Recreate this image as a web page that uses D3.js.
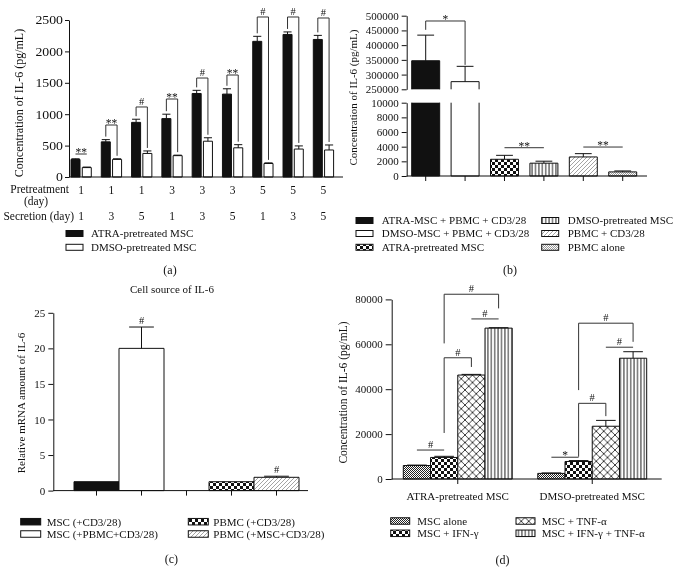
<!DOCTYPE html>
<html><head><meta charset="utf-8">
<script src="https://cdn.jsdelivr.net/npm/d3@7"></script>
<style>
body{margin:0;background:#fff;}
svg{display:block;font-family:"Liberation Serif","Times New Roman",serif;will-change:transform;opacity:0.999;}
</style></head><body>
<svg id="chart" width="679" height="569"></svg>
<script>
// ---------- Panel (a) data ----------
const aPretreat = ["1","1","1","3","3","3","5","5","5"];
const aSecretion = ["1","3","5","1","3","5","1","3","5"];
const aSeries = ["ATRA-pretreated MSC","DMSO-pretreated MSC"];
const aAtra = [280,560,870,930,1330,1320,2160,2270,2190];
const aAtraErr = [10,35,50,70,50,85,80,40,65];
const aDmso = [150,280,375,340,570,465,215,445,430];
const aDmsoErr = [8,10,40,8,55,50,10,50,80];
const aSigLabel = ["**","**","#","**","#","**","#","#","#"];
const aSigLevel = [366,828,1115,1242,1576,1624,2548,2548,2532];
const aSigBracket = [false,true,true,true,true,true,true,true,true];
const aYTicks = [0,500,1000,1500,2000,2500];

// ---------- Panel (b) data ----------
const bLabels = ["ATRA-MSC + PBMC + CD3/28","DMSO-MSC + PBMC + CD3/28","ATRA-pretreated MSC","DMSO-pretreated MSC","PBMC + CD3/28","PBMC alone"];
const bValues = [347000,276000,2280,1750,2600,560];
const bErr = [87000,52000,540,270,450,130];
const bUpperTicks = [250000,300000,350000,400000,450000,500000];
const bLowerTicks = [0,2000,4000,6000,8000,10000];
const bSig = [
  {from:0,to:1,label:"*",level:482000,legs:[452000,333000],upper:true},
  {from:2,to:3,label:"**",level:3860},
  {from:4,to:5,label:"**",level:3950}
];

// ---------- Panel (c) data ----------
const cTitle = "Cell source of IL-6";
const cSlots = ["MSC (+CD3/28)","MSC (+PBMC+CD3/28)"," ","PBMC (+CD3/28)","PBMC (+MSC+CD3/28)"];
const cLabels = ["MSC (+CD3/28)","MSC (+PBMC+CD3/28)","PBMC (+CD3/28)","PBMC (+MSC+CD3/28)"];
const cValues = [1.25,20,1.25,1.87];
const cErr = [0,3,0,0.15];
const cSig = ["","#","","#"];
const cYTicks = [0,5,10,15,20,25];

// ---------- Panel (d) data ----------
const dGroups = ["ATRA-pretreated MSC","DMSO-pretreated MSC"];
const dSeries = ["MSC alone","MSC + IFN-γ","MSC + TNF-α","MSC + IFN-γ + TNF-α"];
const dAtra = [6000,9600,46300,67200];
const dAtraErr = [200,500,300,200];
const dDmso = [2500,7800,23500,53800];
const dDmsoErr = [200,400,2600,2900];
const dYTicks = [0,20000,40000,60000,80000];
const dSig = [
  {group:0,from:0,to:1,label:"#",level:12900},
  {group:0,from:1,to:2,label:"#",level:54000,legs:[20500,49900]},
  {group:0,from:1,to:3,label:"#",level:82300,legs:[60400,76000]},
  {group:0,from:2,to:3,label:"#",level:71300},
  {group:1,from:0,to:1,label:"*",level:9700},
  {group:1,from:1,to:2,label:"#",level:33700,legs:[9930,28000]},
  {group:1,from:1,to:3,label:"#",level:69400,legs:[39600,61100]},
  {group:1,from:2,to:3,label:"#",level:58700}
];

// ---------- setup ----------
const INK = "#111";
const fmt = d3.format("d");
const svg = d3.select("#chart");
svg.append("rect").attr("width",679).attr("height",569).attr("fill","#fff");
const defs = svg.append("defs");
function pattern(id,w,h,draw){
  const p = defs.append("pattern").attr("id",id).attr("patternUnits","userSpaceOnUse").attr("width",w).attr("height",h);
  p.append("rect").attr("width",w).attr("height",h).attr("fill","#fff");
  draw(p);
}
pattern("checker",6,6,p=>{
  p.append("rect").attr("width",3).attr("height",3).attr("fill",INK);
  p.append("rect").attr("x",3).attr("y",3).attr("width",3).attr("height",3).attr("fill",INK);
});
pattern("vlines",3.4,10,p=>p.append("line").attr("x1",1.7).attr("x2",1.7).attr("y1",0).attr("y2",10).attr("stroke",INK).attr("stroke-width",0.9));
pattern("diag",4,4,p=>p.append("path").attr("d","M-1,1L1,-1M0,4L4,0M3,5L5,3").attr("stroke","#666").attr("stroke-width",0.6));
pattern("fineLight",2,2,p=>{
  p.append("rect").attr("width",1).attr("height",1).attr("fill","#999");
  p.append("rect").attr("x",1).attr("y",1).attr("width",1).attr("height",1).attr("fill","#999");
});
pattern("fineDark",2,2,p=>{
  p.append("rect").attr("width",1).attr("height",1).attr("fill","#222");
  p.append("rect").attr("x",1).attr("y",1).attr("width",1).attr("height",1).attr("fill","#222");
});
pattern("diamond",7.5,7.5,p=>p.append("path").attr("d","M0,0L7.5,7.5M7.5,0L0,7.5").attr("stroke",INK).attr("stroke-width",0.8));

const FILL = {black:INK, white:"#fff", checker:"url(#checker)", vlines:"url(#vlines)", diag:"url(#diag)", fineLight:"url(#fineLight)", fineDark:"url(#fineDark)", diamond:"url(#diamond)"};

function label(g,x,y,s,size,anchor="start",extra=""){
  return g.append("text").attr("transform",`translate(${x},${y})${extra}`)
    .attr("text-anchor",anchor).attr("font-size",size).attr("fill",INK).text(s);
}
function styleAxis(g,size,sx=1){
  g.attr("font-family",null).attr("font-size",null);
  g.selectAll("path.domain").attr("stroke",INK);
  g.selectAll(".tick line").attr("stroke",INK);
  g.selectAll(".tick text").attr("font-size",size).attr("fill",INK);
  if(sx!==1) g.selectAll(".tick text").each(function(){
    const t=d3.select(this); const x=+t.attr("x");
    t.attr("x",x/sx).attr("transform",`scale(${sx},1)`);
  });
}
function bar(g,x,w,y0,y1,fill,edges={top:true,bottom:true}){
  g.append("rect").attr("x",x).attr("y",Math.min(y0,y1)).attr("width",w).attr("height",Math.abs(y0-y1)).attr("fill",fill);
  const top=Math.min(y0,y1), bot=Math.max(y0,y1);
  let d=`M${x},${bot}V${top}M${x+w},${bot}V${top}`;
  if(edges.top) d+=`M${x},${top}H${x+w}`;
  if(edges.bottom) d+=`M${x},${bot}H${x+w}`;
  g.append("path").attr("d",d).attr("fill","none").attr("stroke",INK).attr("stroke-width",1);
}
function errBar(g,cx,yTop,yErr,capW){
  g.append("path").attr("d",`M${cx},${yTop}V${yErr}M${cx-capW/2},${yErr}H${cx+capW/2}`)
    .attr("fill","none").attr("stroke",INK).attr("stroke-width",1);
}
function sig(g,x1,x2,yTop,yL,yR,lab,starSize=11.5,hashSize=10.5){
  let d = (yL!=null) ? `M${x1},${yL}V${yTop}H${x2}V${yR}` : `M${x1},${yTop}H${x2}`;
  g.append("path").attr("d",d).attr("fill","none").attr("stroke","#333").attr("stroke-width",1);
  const mx=(x1+x2)/2;
  if(lab.startsWith("*")) label(g,mx,yTop+2,lab,starSize,"middle");
  else label(g,mx,yTop-2,lab,hashSize,"middle");
}
function legend(g,items,fills,cols,rows,swW,swH,size){
  items.forEach((t,i)=>{
    const c=Math.floor(i/rows.length), r=i%rows.length;
    const cy=rows[r];
    g.append("rect").attr("x",cols[c].sw).attr("y",cy-swH/2).attr("width",swW).attr("height",swH)
      .attr("fill",fills[i]).attr("stroke",INK).attr("stroke-width",1);
    label(g,cols[c].tx,cy+3.8,t,size,"start");
  });
}

// ================= Panel (a) =================
{
  const g = svg.append("g");
  const ya = d3.scaleLinear().domain([0,2500]).range([177,20]);
  const xa = d3.scaleBand().domain(d3.range(aAtra.length)).range([71,333.6]).paddingInner(0.33);
  const xs = d3.scaleBand().domain([0,1]).range([0,xa.bandwidth()]).paddingInner(0.2);
  const bw = xs.bandwidth();
  const fills=[FILL.black,FILL.white];
  aAtra.forEach((v,i)=>{
    const vals=[[v,aAtraErr[i]],[aDmso[i],aDmsoErr[i]]];
    const cxs=[];
    vals.forEach(([val,e],k)=>{
      const x=xa(i)+xs(k);
      bar(g,x,bw,ya(0),ya(val),fills[k]);
      errBar(g,x+bw/2,ya(val),ya(val+e),bw*0.9);
      cxs.push(x+bw/2);
    });
    const yT=ya(aSigLevel[i]);
    if(aSigBracket[i]) sig(g,cxs[0],cxs[1],yT,ya(v+aAtraErr[i])-3,ya(aDmso[i]+aDmsoErr[i])-3,aSigLabel[i]);
    else sig(g,cxs[0],cxs[1],yT,null,null,aSigLabel[i]);
    label(g,xa(i)+xa.bandwidth()/2,194,aPretreat[i],11.5,"middle");
    label(g,xa(i)+xa.bandwidth()/2,220,aSecretion[i],11.5,"middle");
  });
  const ax=g.append("g").attr("transform","translate(69,0)")
    .call(d3.axisLeft(ya).tickValues(aYTicks).tickFormat(fmt).tickSize(4).tickSizeOuter(0).tickPadding(2));
  styleAxis(ax,12,1.15);
  g.append("line").attr("x1",69).attr("x2",343).attr("y1",ya(0)).attr("y2",ya(0)).attr("stroke",INK);
  label(g,23,103,"Concentration of IL-6 (pg/mL)",12,"middle"," rotate(-90)");
  label(g,69,193,"Pretreatment",11.5,"end");
  label(g,36,205,"(day)",11.5,"middle");
  label(g,74,220,"Secretion (day)",11.5,"end");
  legend(g,aSeries,fills,[{sw:66,tx:91}],[233.5,247.3],17,6,11);
  label(g,170,274,"(a)",12,"middle");
}

// ================= Panel (b) =================
{
  const g = svg.append("g");
  const yUp = d3.scaleLinear().domain([250000,500000]).range([89.3,15.7]);
  const yLo = d3.scaleLinear().domain([0,10000]).range([176,102.7]);
  const xb = d3.scaleBand().domain(bLabels).range([411.7,636.7]).paddingInner(0.29);
  const bw = xb.bandwidth();
  const fills=[FILL.black,FILL.white,FILL.checker,FILL.vlines,FILL.diag,FILL.fineLight];
  const cxs=[];
  bValues.forEach((v,i)=>{
    const x=xb(bLabels[i]); const cx=x+bw/2; cxs.push(cx);
    if(v>10000){
      bar(g,x,bw,yLo(0),yLo(10000),fills[i],{top:false,bottom:true});
      bar(g,x,bw,yUp(250000),yUp(v),fills[i],{top:true,bottom:false});
      errBar(g,cx,yUp(v),yUp(v+bErr[i]),bw*0.6);
    } else {
      bar(g,x,bw,yLo(0),yLo(v),fills[i]);
      errBar(g,cx,yLo(v),yLo(v+bErr[i]),bw*0.6);
    }
  });
  bSig.forEach(s=>{
    if(s.upper) sig(g,cxs[s.from],cxs[s.to],yUp(s.level),yUp(s.legs[0]),yUp(s.legs[1]),s.label);
    else sig(g,cxs[s.from],cxs[s.to],yLo(s.level),null,null,s.label);
  });
  const a1=g.append("g").attr("transform","translate(406.7,0)")
    .call(d3.axisLeft(yUp).tickValues(bUpperTicks).tickFormat(fmt).tickSize(5).tickSizeOuter(0).tickPadding(3));
  styleAxis(a1,11);
  const a2=g.append("g").attr("transform","translate(406.7,0)")
    .call(d3.axisLeft(yLo).tickValues(bLowerTicks).tickFormat(fmt).tickSize(5).tickSizeOuter(0).tickPadding(3));
  styleAxis(a2,11);
  const a3=g.append("g").attr("transform",`translate(0,${yLo(0)})`)
    .call(d3.axisBottom(xb).tickSize(5).tickSizeOuter(0).tickFormat(""));
  styleAxis(a3,11);
  a3.select("path.domain").remove();
  g.append("line").attr("x1",406.7).attr("x2",647).attr("y1",yLo(0)).attr("y2",yLo(0)).attr("stroke",INK);
  label(g,356.7,97.5,"Concentration of IL-6 (pg/mL)",11,"middle"," rotate(-90)");
  legend(g,bLabels,fills,[{sw:356,tx:381.7},{sw:541.7,tx:567.7}],[220.5,233.5,247.3],17,6,11);
  label(g,510,274,"(b)",12,"middle");
}

// ================= Panel (c) =================
{
  const g = svg.append("g");
  const yc = d3.scaleLinear().domain([0,25]).range([490.6,312.8]);
  const xc = d3.scaleBand().domain(cSlots).range([74,299]);
  const bw = xc.bandwidth();
  const fills=[FILL.black,FILL.white,FILL.checker,FILL.diag];
  cLabels.forEach((k,i)=>{
    const x=xc(k), v=cValues[i];
    bar(g,x,bw,yc(0),yc(v),fills[i]);
    if(cErr[i]>0) errBar(g,x+bw/2,yc(v),yc(v+cErr[i]),bw*0.55);
    if(cSig[i]) label(g,x+bw/2,yc(v+cErr[i])-3,cSig[i],10.5,"middle");
  });
  const ay=g.append("g").attr("transform","translate(53.3,0)")
    .call(d3.axisLeft(yc).tickValues(cYTicks).tickFormat(fmt).tickSize(5).tickSizeOuter(0).tickPadding(3));
  styleAxis(ay,11);
  const axc=g.append("g").attr("transform",`translate(0,${yc(0)})`)
    .call(d3.axisBottom(xc).tickSize(5).tickSizeOuter(0).tickFormat(""));
  styleAxis(axc,11);
  axc.select("path.domain").remove();
  g.append("line").attr("x1",53.3).attr("x2",308).attr("y1",yc(0)).attr("y2",yc(0)).attr("stroke",INK);
  label(g,25,403,"Relative mRNA amount of IL-6",11,"middle"," rotate(-90)");
  label(g,172,293,cTitle,11,"middle");
  legend(g,cLabels,fills,[{sw:20.7,tx:46.7},{sw:188.3,tx:213.3}],[521.7,534],20,6.5,11);
  label(g,171.3,562.5,"(c)",12,"middle");
}

// ================= Panel (d) =================
{
  const g = svg.append("g");
  const yd = d3.scaleLinear().domain([0,80000]).range([479,299.4]);
  const xd = d3.scaleBand().domain(dGroups).range([403.3,646.7]).paddingInner(0.19);
  const xs = d3.scaleBand().domain(dSeries).range([0,xd.bandwidth()]);
  const bw = xs.bandwidth();
  const fills=[FILL.fineDark,FILL.checker,FILL.diamond,FILL.vlines];
  const groupVals=[[dAtra,dAtraErr],[dDmso,dDmsoErr]];
  const centers=[[],[]];
  dGroups.forEach((gr,gi)=>{
    const [vals,errs]=groupVals[gi];
    dSeries.forEach((s,si)=>{
      const x=xd(gr)+xs(s), v=vals[si];
      bar(g,x,bw,yd(0),yd(v),fills[si]);
      errBar(g,x+bw/2,yd(v),yd(v+errs[si]),bw*0.72);
      centers[gi].push(x+bw/2);
    });
  });
  dSig.forEach(s=>{
    const c=centers[s.group];
    if(s.legs) sig(g,c[s.from],c[s.to],yd(s.level),yd(s.legs[0]),yd(s.legs[1]),s.label);
    else sig(g,c[s.from],c[s.to],yd(s.level),null,null,s.label);
  });
  const ay=g.append("g").attr("transform","translate(391.7,0)")
    .call(d3.axisLeft(yd).tickValues(dYTicks).tickFormat(fmt).tickSize(6).tickSizeOuter(0).tickPadding(3));
  styleAxis(ay,11);
  const axd=g.append("g").attr("transform",`translate(0,${yd(0)})`)
    .call(d3.axisBottom(xd).tickSize(5).tickSizeOuter(0).tickPadding(8));
  styleAxis(axd,11);
  axd.select("path.domain").remove();
  g.append("line").attr("x1",391.7).attr("x2",661.7).attr("y1",yd(0)).attr("y2",yd(0)).attr("stroke",INK);
  label(g,347.3,392.5,"Concentration of IL-6 (pg/mL)",11.5,"middle"," rotate(-90)");
  legend(g,dSeries,fills,[{sw:390.7,tx:417.3},{sw:516,tx:541.7}],[521,533.3],19,6.5,11);
  label(g,502.5,564,"(d)",12,"middle");
}
</script>
</body></html>
